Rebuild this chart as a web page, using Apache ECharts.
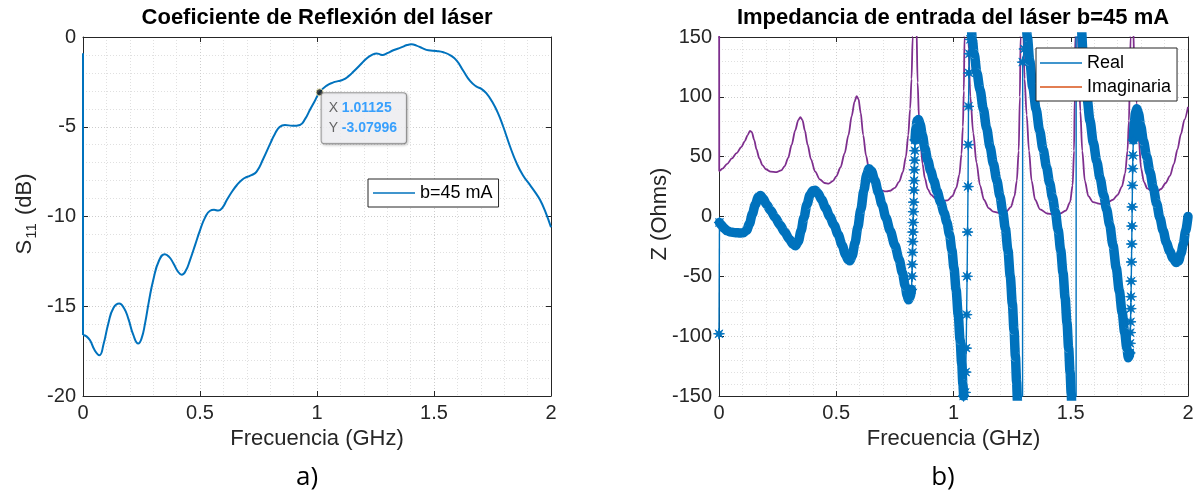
<!DOCTYPE html>
<html>
<head>
<meta charset="utf-8">
<script src="https://cdn.jsdelivr.net/npm/echarts@6.0.0/dist/echarts.min.js"></script>
<style>
  html, body { margin: 0; padding: 0; background: #ffffff; }
  #chart { width: 1194px; height: 492px; }
</style>
</head>
<body>
<div id="chart"></div>
<script>
// ---------- a) S11 (dB) vs frequency (GHz) ----------
const tipX = 1.01125;
const tipY = -3.07996;
const s11Drop = [[0, -0.9], [0, -16.6]];
const s11Curve = [
  [0, -16.6], [0.015, -16.68], [0.03, -16.9], [0.05, -17.45], [0.07, -17.73],
  [0.088, -17.1], [0.108, -15.97], [0.13, -15.1], [0.155, -14.85], [0.175, -15.1], [0.194, -15.7],
  [0.215, -16.6], [0.236, -17.08], [0.25, -16.8], [0.265, -15.97], [0.282, -14.7], [0.3, -13.55],
  [0.325, -12.45], [0.35, -12.1], [0.368, -12.25], [0.386, -12.6], [0.405, -13.05], [0.422, -13.24],
  [0.44, -13.0], [0.457, -12.44], [0.48, -11.55], [0.5, -10.77], [0.522, -10.05], [0.543, -9.68],
  [0.56, -9.63], [0.578, -9.67], [0.596, -9.5], [0.614, -9.1], [0.635, -8.65], [0.657, -8.26],
  [0.68, -7.95], [0.7, -7.8], [0.72, -7.7], [0.742, -7.5], [0.77, -6.8], [0.8, -5.94],
  [0.82, -5.4], [0.84, -5.02], [0.863, -4.9], [0.895, -4.95], [0.927, -4.9], [0.95, -4.55],
  [0.97, -4.05], [0.99, -3.58], [tipX, tipY], [1.04, -2.72], [1.07, -2.53], [1.09, -2.46],
  [1.112, -2.38], [1.135, -2.18], [1.155, -1.94], [1.185, -1.55], [1.212, -1.2], [1.235, -1.0],
  [1.255, -0.92], [1.27, -0.97], [1.28, -1.0], [1.3, -0.9], [1.326, -0.74], [1.36, -0.58],
  [1.385, -0.45], [1.404, -0.41], [1.425, -0.48], [1.45, -0.62], [1.476, -0.74], [1.51, -0.78],
  [1.54, -0.85], [1.57, -1.02], [1.597, -1.32], [1.625, -1.88], [1.654, -2.45], [1.68, -2.75],
  [1.704, -2.9], [1.725, -3.15], [1.746, -3.55], [1.772, -4.2], [1.796, -5.0], [1.825, -6.1],
  [1.853, -7.03], [1.88, -7.7], [1.91, -8.24], [1.935, -8.7], [1.953, -9.07], [1.975, -9.7],
  [2.0, -10.6]
];

// ---------- b) input impedance, real part (Ohms) ----------
// slowly varying stretches: the samples sit so close that the markers merge into a band
const zRealBand1 = [
  [0.002, -5], [0.01, -7], [0.02, -9.5], [0.035, -12], [0.05, -13], [0.07, -13.5], [0.09, -13.8],
  [0.105, -13.5], [0.118, -11.5], [0.13, -6], [0.142, 2], [0.155, 10], [0.167, 16], [0.177, 17.5],
  [0.188, 15], [0.203, 10], [0.22, 5], [0.24, -1], [0.26, -7], [0.28, -13], [0.3, -19], [0.315, -23],
  [0.326, -24.5], [0.338, -21], [0.35, -12], [0.362, -1], [0.375, 10], [0.388, 18], [0.4, 21.5],
  [0.41, 22], [0.422, 19.5], [0.438, 14], [0.455, 7], [0.472, 0], [0.49, -7], [0.508, -15],
  [0.525, -24], [0.54, -32], [0.55, -36], [0.558, -37], [0.568, -33], [0.58, -22], [0.592, -9],
  [0.605, 6], [0.618, 22], [0.63, 35], [0.64, 40], [0.65, 38], [0.665, 30], [0.68, 20], [0.695, 10],
  [0.712, -1], [0.73, -12], [0.75, -24], [0.768, -36], [0.782, -47], [0.794, -58], [0.802, -66],
  [0.808, -69.5], [0.815, -67], [0.821, -61]
];
const zRealBand2 = [
  [0.836, 64], [0.84, 74], [0.845, 80], [0.851, 81], [0.858, 77], [0.867, 68], [0.878, 57],
  [0.89, 47], [0.903, 38], [0.916, 30], [0.93, 21], [0.945, 12], [0.96, 3], [0.972, -5],
  [0.983, -15], [0.993, -28], [1.002, -43], [1.011, -61], [1.02, -82], [1.028, -103],
  [1.035, -123], [1.04, -140], [1.043, -150]
];
const zRealBand3 = [
  [1.077, 156], [1.08, 148], [1.088, 136], [1.1, 120], [1.113, 106], [1.127, 90], [1.141, 74],
  [1.156, 58], [1.17, 44], [1.185, 30], [1.198, 17], [1.21, 4], [1.221, -10], [1.232, -28],
  [1.242, -50], [1.251, -73], [1.258, -95], [1.264, -117], [1.269, -138], [1.273, -155], [1.276, -170]
];
const zRealBand4 = [
  [1.309, 165], [1.315, 150], [1.325, 130], [1.338, 108], [1.352, 90], [1.367, 72], [1.382, 56],
  [1.397, 41], [1.41, 28], [1.422, 16], [1.434, 4], [1.446, -11], [1.457, -28], [1.467, -47],
  [1.476, -68], [1.484, -89], [1.491, -110], [1.497, -130], [1.502, -148], [1.505, -165]
];
const zRealBand5 = [
  [1.54, 175], [1.545, 158], [1.552, 138], [1.56, 118], [1.57, 98], [1.582, 80], [1.596, 62],
  [1.611, 46], [1.625, 32], [1.64, 18], [1.653, 6], [1.666, -7], [1.68, -24], [1.694, -43],
  [1.707, -62], [1.719, -80], [1.73, -97], [1.739, -110], [1.746, -118], [1.752, -114]
];
const zRealBand6 = [
  [1.767, 64], [1.771, 78], [1.776, 87], [1.782, 90], [1.789, 86], [1.798, 76], [1.81, 63],
  [1.824, 50], [1.838, 37], [1.852, 24], [1.866, 11], [1.88, -1], [1.894, -12], [1.908, -22],
  [1.922, -29], [1.936, -35], [1.95, -38.5], [1.96, -37], [1.97, -31], [1.98, -23], [1.99, -12],
  [2.0, 0]
];
// fast transitions: individual samples stay visible as separate asterisks
const zRealStep0 = [[0, -98], [0.002, -5]];
const zRealStep1 = [
  [0.821, -61], [0.823, -50], [0.824, -40], [0.825, -30], [0.826, -21], [0.827, -13], [0.828, -5],
  [0.829, 4], [0.83, 12], [0.831, 22], [0.832, 30], [0.833, 39], [0.834, 47], [0.835, 55], [0.836, 64]
];
const zRealStep2 = [
  [1.043, -150], [1.05, -147], [1.052, -130], [1.054, -110], [1.056, -82], [1.058, -50],
  [1.06, -13], [1.062, 25], [1.063, 60], [1.064, 92], [1.066, 120], [1.068, 136], [1.072, 148], [1.077, 156]
];
const zRealStep3 = [[1.276, -170], [1.29, -2500], [1.295, 129], [1.302, 140], [1.309, 165]];
const zRealStep4 = [[1.505, -165], [1.52, -3000], [1.526, 3000], [1.54, 175]];
const zRealStep5 = [
  [1.752, -114], [1.753, -106], [1.754, -97], [1.755, -88], [1.756, -77], [1.757, -67], [1.758, -54],
  [1.759, -38], [1.76, -23], [1.761, -8], [1.762, 8], [1.763, 26], [1.764, 40], [1.765, 51], [1.767, 64]
];

// ---------- b) input impedance, imaginary part (Ohms) ----------
const zImag = [
  [0, 420], [0.001, 38], [0.015, 40], [0.035, 44], [0.055, 48.5], [0.075, 53], [0.095, 58],
  [0.11, 63], [0.122, 68], [0.132, 71.5], [0.14, 70.5], [0.15, 64], [0.16, 56], [0.172, 48.5],
  [0.185, 43], [0.2, 39.5], [0.22, 37.5], [0.245, 37], [0.265, 38.5], [0.28, 42], [0.295, 49],
  [0.31, 60], [0.325, 72], [0.338, 80.5], [0.347, 83], [0.356, 80.5], [0.366, 72], [0.378, 60],
  [0.392, 48], [0.41, 37.5], [0.43, 31], [0.45, 28], [0.468, 27.5], [0.485, 29.5], [0.5, 33.5],
  [0.518, 41], [0.536, 53], [0.552, 68], [0.566, 84], [0.578, 96], [0.587, 100.5], [0.595, 98],
  [0.604, 87], [0.615, 68], [0.627, 51], [0.64, 39], [0.656, 30], [0.672, 25], [0.69, 22],
  [0.71, 21], [0.73, 21.5], [0.75, 24], [0.768, 29], [0.784, 37], [0.797, 50], [0.807, 68],
  [0.815, 90], [0.821, 115], [0.826, 150], [0.83, 230], [0.834, 900], [0.838, 260], [0.842, 160],
  [0.847, 112], [0.853, 82], [0.86, 60], [0.868, 44], [0.878, 32], [0.89, 23], [0.905, 18],
  [0.925, 14.5], [0.95, 13], [0.975, 13.5], [0.995, 17], [1.012, 24], [1.025, 35], [1.034, 52],
  [1.04, 75], [1.044, 105], [1.047, 150], [1.05, 900], [1.054, 260], [1.058, 200], [1.064, 140],
  [1.072, 100], [1.084, 70], [1.098, 45], [1.113, 26], [1.13, 14], [1.15, 7], [1.17, 4],
  [1.198, 2.8], [1.225, 4], [1.245, 8], [1.26, 17], [1.27, 30], [1.278, 55], [1.283, 100],
  [1.286, 150], [1.289, 900], [1.293, 260], [1.297, 160], [1.303, 115], [1.312, 85], [1.322, 55],
  [1.333, 30], [1.348, 14], [1.369, 6], [1.4, 2.5], [1.426, 1.7], [1.455, 2.5], [1.48, 5],
  [1.497, 12], [1.508, 26], [1.514, 55], [1.517, 100], [1.519, 150], [1.522, 900], [1.526, 260],
  [1.53, 160], [1.535, 118], [1.541, 88], [1.549, 55], [1.56, 30], [1.575, 17], [1.595, 12],
  [1.625, 10.6], [1.655, 11.5], [1.68, 14], [1.7, 18], [1.718, 25], [1.732, 36], [1.742, 55],
  [1.748, 80], [1.752, 110], [1.755, 150], [1.758, 900], [1.762, 260], [1.766, 160], [1.772, 120],
  [1.781, 95], [1.79, 65], [1.8, 40], [1.812, 29], [1.826, 23.5], [1.846, 21], [1.866, 20.4],
  [1.885, 23], [1.905, 28], [1.923, 34], [1.94, 44], [1.955, 56], [1.97, 69], [1.985, 81], [2.0, 91.6]
];

// ---------- axes ----------
const freqTicks = { min: 0, max: 2, interval: 0.5 };
const s11Ticks = { min: -20, max: 0, interval: 5 };
const zTicks = { min: -150, max: 150, interval: 50 };

const FONT = '"Liberation Sans", Arial, Helvetica, sans-serif';
const INK = '#262626';
const BLUE = '#0072BD';
const ORANGE = '#D95319';
const PURPLE = '#7E2F8E';
// eight-pointed star used as the '*' sample marker
const ASTERISK = 'path://M5,0L1.7,0.7L3.54,3.54L0.7,1.7L0,5L-0.7,1.7L-3.54,3.54L-1.7,0.7L-5,0' +
  'L-1.7,-0.7L-3.54,-3.54L-0.7,-1.7L0,-5L0.7,-1.7L3.54,-3.54L1.7,-0.7Z';

function mainAxis(gridIndex, range, position, name) {
  const ax = {
    type: 'value', gridIndex, position,
    min: range.min, max: range.max, interval: range.interval,
    axisLine: { show: true, onZero: false, lineStyle: { color: INK, width: 1 } },
    axisTick: { show: true, inside: true, length: 5, lineStyle: { color: INK, width: 1 } },
    axisLabel: { show: true, color: INK, fontSize: 20, fontFamily: FONT, margin: 7 },
    splitLine: { show: true, lineStyle: { color: '#cdcdcd', width: 1, type: [1, 2] } },
    minorTick: { show: false, splitNumber: 5 },
    minorSplitLine: { show: true, lineStyle: { color: '#e0e0e0', width: 1, type: [1, 2] } }
  };
  if (name) {
    ax.name = name;
    ax.nameLocation = 'middle';
    ax.nameGap = 31;
    ax.nameTextStyle = { color: INK, fontSize: 22, fontFamily: FONT };
  }
  return ax;
}
function mirrorAxis(gridIndex, range, position) {
  return {
    type: 'value', gridIndex, position,
    min: range.min, max: range.max, interval: range.interval,
    axisLine: { show: true, onZero: false, lineStyle: { color: INK, width: 1 } },
    axisTick: { show: true, inside: true, length: 5, lineStyle: { color: INK, width: 1 } },
    axisLabel: { show: false },
    splitLine: { show: false }
  };
}

const inRange = seg => seg.every(p => p[1] >= zTicks.min && p[1] <= zTicks.max);

const bandSeries = [zRealBand1, zRealBand2, zRealBand3, zRealBand4, zRealBand5, zRealBand6].map(seg => ({
  type: 'line', xAxisIndex: 2, yAxisIndex: 2, data: seg,
  symbol: 'none', smooth: 0.3, smoothMonotone: 'x', clip: !inRange(seg), z: 4,
  lineStyle: { color: BLUE, width: 9.5, cap: 'round', join: 'round' },
  silent: true
}));
const stepSeries = [zRealStep0, zRealStep1, zRealStep2, zRealStep3, zRealStep4, zRealStep5].map(seg => ({
  type: 'line', xAxisIndex: 2, yAxisIndex: 2, data: seg,
  symbol: ASTERISK, symbolSize: 11, showSymbol: true, clip: !inRange(seg), z: 5,
  lineStyle: { color: BLUE, width: 1.4 },
  itemStyle: { color: BLUE, borderColor: BLUE, borderWidth: 0.9 },
  silent: true
}));

const legendBase = {
  orient: 'vertical', icon: 'rect', itemWidth: 42, itemHeight: 1.5, itemGap: 2,
  borderColor: INK, borderWidth: 1, backgroundColor: '#ffffff', borderRadius: 0,
  selectedMode: false, z: 20,
  textStyle: { color: '#000000', fontSize: 18, fontFamily: FONT, lineHeight: 22 }
};

const option = {
  animation: false,
  backgroundColor: '#ffffff',
  grid: [
    { left: 83, top: 37, width: 468, height: 359, outerBoundsMode: 'none', containLabel: false },
    { left: 719, top: 37, width: 469, height: 359, outerBoundsMode: 'none', containLabel: false }
  ],
  xAxis: [
    mainAxis(0, freqTicks, 'bottom', 'Frecuencia (GHz)'),
    mirrorAxis(0, freqTicks, 'top'),
    mainAxis(1, freqTicks, 'bottom', 'Frecuencia (GHz)'),
    mirrorAxis(1, freqTicks, 'top')
  ],
  yAxis: [
    mainAxis(0, s11Ticks, 'left'),
    mirrorAxis(0, s11Ticks, 'right'),
    mainAxis(1, zTicks, 'left'),
    mirrorAxis(1, zTicks, 'right')
  ],
  legend: [
    Object.assign({}, legendBase, { data: ['b=45 mA'], left: 368, top: 179, padding: [3, 6, 3, 5] }),
    Object.assign({}, legendBase, { data: ['Real', 'Imaginaria'], left: 1036, top: 48, padding: [4, 6, 3, 4] })
  ],
  graphic: [
    {
      type: 'text', x: 317, y: 18, silent: true,
      style: { text: 'Coeficiente de Reflexión del láser', fill: '#000000', fontSize: 22,
        fontWeight: 'bold', fontFamily: FONT, align: 'center', verticalAlign: 'middle' }
    },
    {
      type: 'text', x: 953, y: 18, silent: true,
      style: { text: 'Impedancia de entrada del láser b=45 mA', fill: '#000000', fontSize: 22,
        fontWeight: 'bold', fontFamily: FONT, align: 'center', verticalAlign: 'middle' }
    },
    {
      type: 'text', x: 25, y: 214, rotation: Math.PI / 2, silent: true,
      style: {
        text: '{m|S}{s|11}{m| (dB)}', align: 'center', verticalAlign: 'middle',
        rich: {
          m: { fontSize: 22, fontFamily: FONT, fill: INK, color: INK },
          s: { fontSize: 15, fontFamily: FONT, fill: INK, color: INK, padding: [13, 2, 0, 1] }
        }
      }
    },
    {
      type: 'text', x: 660, y: 214, rotation: Math.PI / 2, silent: true,
      style: { text: 'Z (Ohms)', fill: INK, fontSize: 22, fontFamily: FONT,
        align: 'center', verticalAlign: 'middle' }
    },
    {
      type: 'text', x: 307, y: 478, silent: true,
      style: { text: 'a)', fill: '#000000', fontSize: 26, fontFamily: '"Open Sans", "Noto Sans", sans-serif',
        align: 'center', verticalAlign: 'middle' }
    },
    {
      type: 'text', x: 943, y: 478, silent: true,
      style: { text: 'b)', fill: '#000000', fontSize: 26, fontFamily: '"Open Sans", "Noto Sans", sans-serif',
        align: 'center', verticalAlign: 'middle' }
    }
  ],
  series: [
    {
      name: 'b=45 mA', type: 'line', xAxisIndex: 0, yAxisIndex: 0, data: s11Curve,
      symbol: 'none', smooth: 0.5, clip: false, z: 3,
      lineStyle: { color: BLUE, width: 2 }, itemStyle: { color: BLUE }, silent: true
    },
    {
      type: 'line', xAxisIndex: 0, yAxisIndex: 0, data: s11Drop,
      symbol: 'none', clip: false, z: 3,
      lineStyle: { color: BLUE, width: 2 }, silent: true
    },
    {
      name: 'datatip', type: 'scatter', xAxisIndex: 0, yAxisIndex: 0, data: [[tipX, tipY]],
      symbol: 'circle', symbolSize: 7, z: 10, silent: true,
      itemStyle: { color: '#1a1a1a', borderColor: '#f3eeb0', borderWidth: 1 },
      label: {
        show: true, position: [6, 5],
        formatter: () => '{k|X} {v|' + tipX.toString() + '}\n{k|Y} {v|' + tipY.toString() + '}',
        backgroundColor: '#f8f8fb', borderColor: '#8a8a8a', borderWidth: 1, borderRadius: 3,
        padding: [5, 9, 5, 7], lineHeight: 20, fontSize: 14, fontFamily: FONT, color: '#404040',
        shadowBlur: 3, shadowColor: 'rgba(0,0,0,0.25)', shadowOffsetX: 1, shadowOffsetY: 1,
        rich: {
          k: { fontSize: 14, fontFamily: FONT, color: '#404040', lineHeight: 20 },
          v: { fontSize: 14, fontFamily: FONT, color: '#0a8cff', fontWeight: 'bold', lineHeight: 20 }
        }
      }
    },
    {
      name: 'Im(Z)', type: 'line', xAxisIndex: 2, yAxisIndex: 2, data: zImag,
      symbol: 'none', smooth: 0.3, smoothMonotone: 'x', clip: true, z: 3,
      lineStyle: { color: PURPLE, width: 1.8 }, silent: true
    },
    ...bandSeries,
    ...stepSeries,
    {
      name: 'Real', type: 'line', xAxisIndex: 2, yAxisIndex: 2, data: [],
      symbol: 'none', lineStyle: { color: BLUE, width: 1.3 }, itemStyle: { color: BLUE }
    },
    {
      name: 'Imaginaria', type: 'line', xAxisIndex: 2, yAxisIndex: 2, data: [],
      symbol: 'none', lineStyle: { color: ORANGE, width: 1.3 }, itemStyle: { color: ORANGE }
    }
  ]
};

const chart = echarts.init(document.getElementById('chart'), null, { renderer: 'canvas' });
chart.setOption(option);
</script>
</body>
</html>
